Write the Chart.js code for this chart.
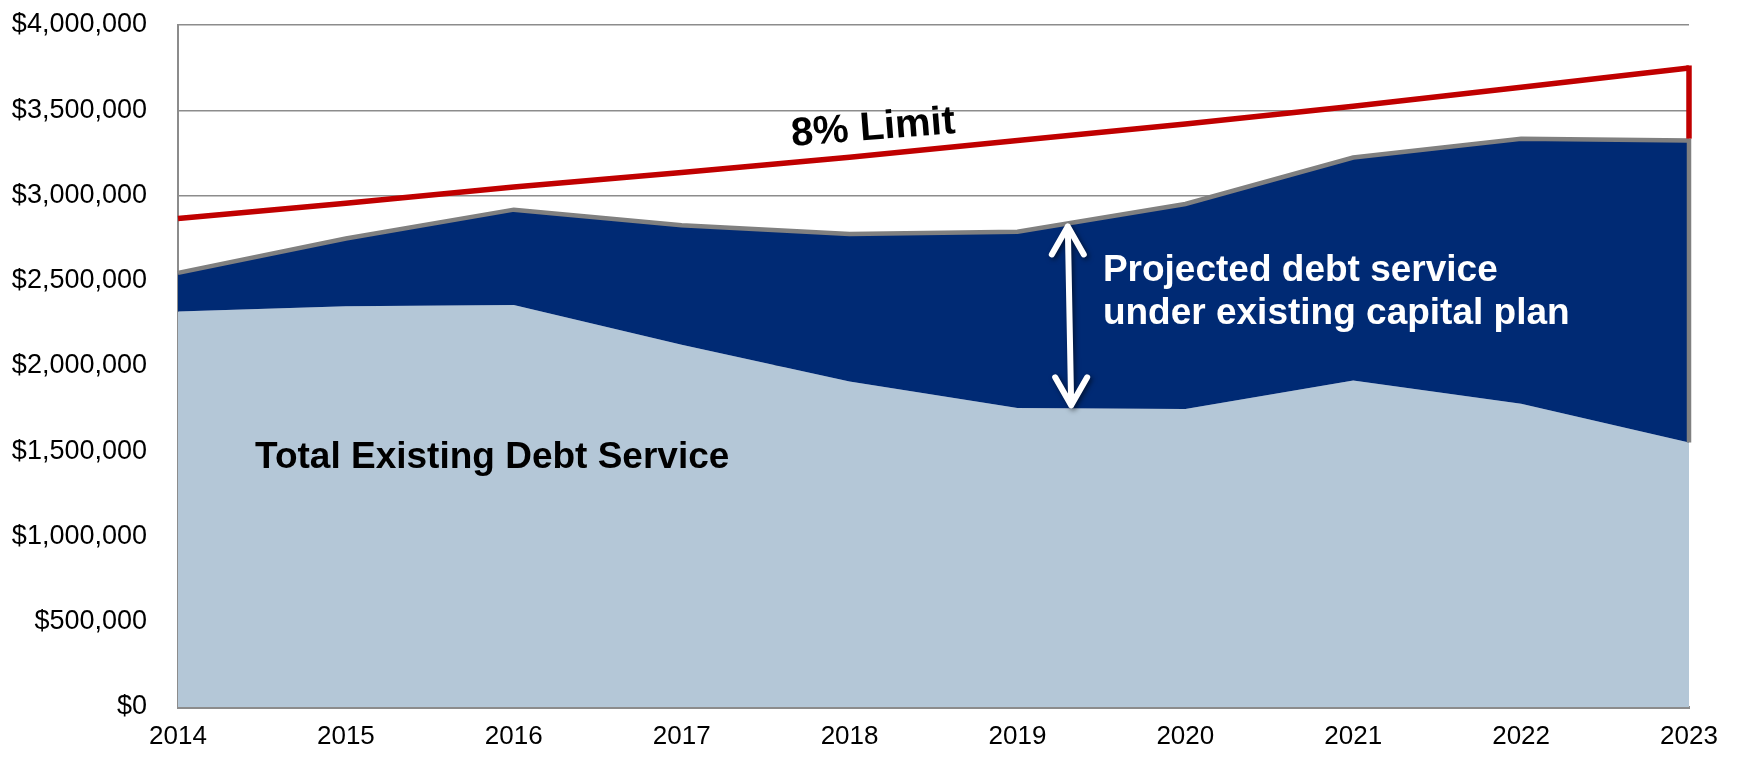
<!DOCTYPE html>
<html>
<head>
<meta charset="utf-8">
<script src="https://cdn.jsdelivr.net/npm/chart.js@4/dist/chart.umd.min.js"></script>
<style>
  body { margin: 0; background: #fff; }
  #chart { display: block; }
</style>
</head>
<body>
<canvas id="chart" width="1739" height="758"></canvas>
<script>
// donnees
const annees = ["2014", "2015", "2016", "2017", "2018", "2019", "2020", "2021", "2022", "2023"];
const limite8 = [2865000, 2955000, 3050000, 3135000, 3225000, 3322000, 3420000, 3524000, 3635000, 3748000];
const totalProjete = [2546000, 2748000, 2917000, 2826000, 2774000, 2787000, 2950000, 3223000, 3333000, 3322000];
const detteExistante = [2319000, 2351000, 2358000, 2124000, 1909000, 1753000, 1748000, 1915000, 1779000, 1551000];
const ticksY = [0, 500000, 1000000, 1500000, 2000000, 2500000, 3000000, 3500000, 4000000];

const police = "'Liberation Sans', Arial, Helvetica, sans-serif";

function formatDollar(v){
    return "$" + Number(v).toLocaleString("en-US");
}

// bords verticaux a droite, fleche et textes
const decor = {
    id: "decor",
    afterDatasetsDraw(chart){
        let ctx = chart.ctx;
        let x = chart.scales.x;
        let y = chart.scales.y;
        let dernier = annees.length - 1;
        let xd = x.getPixelForValue(dernier);

        ctx.save();
        ctx.lineCap = "butt";
        // bord gris de la serie projetee
        ctx.strokeStyle = "#808080";
        ctx.lineWidth = 4.5;
        ctx.beginPath();
        ctx.moveTo(xd, y.getPixelForValue(totalProjete[dernier]) - 2);
        ctx.lineTo(xd, y.getPixelForValue(detteExistante[dernier]));
        ctx.stroke();
        // bord rouge de la limite
        ctx.strokeStyle = "#C00000";
        ctx.lineWidth = 5.5;
        ctx.beginPath();
        ctx.moveTo(xd, y.getPixelForValue(limite8[dernier]) - 2.5);
        ctx.lineTo(xd, y.getPixelForValue(totalProjete[dernier]) - 2);
        ctx.stroke();

        // fleche double blanche
        let xh = x.getPixelForValue(5.30), yh = y.getPixelForValue(2836000);
        let xb = x.getPixelForValue(5.32), yb = y.getPixelForValue(1752000);
        ctx.shadowColor = "rgba(0,0,0,0.55)";
        ctx.shadowBlur = 5;
        ctx.shadowOffsetX = 2;
        ctx.shadowOffsetY = 2;
        ctx.strokeStyle = "#ffffff";
        ctx.lineWidth = 6;
        ctx.lineCap = "round";
        ctx.lineJoin = "round";
        ctx.beginPath();
        ctx.moveTo(xh, yh + 3);
        ctx.lineTo(xb, yb - 3);
        ctx.moveTo(xh - 16, yh + 31);
        ctx.lineTo(xh, yh + 3);
        ctx.lineTo(xh + 16, yh + 31);
        ctx.moveTo(xb - 16, yb - 31);
        ctx.lineTo(xb, yb - 3);
        ctx.lineTo(xb + 16, yb - 31);
        ctx.stroke();
        ctx.restore();

        ctx.save();
        ctx.font = "bold 37px " + police;
        ctx.textBaseline = "alphabetic";
        ctx.textAlign = "left";
        ctx.fillStyle = "#000000";
        ctx.fillText("Total Existing Debt Service", x.getPixelForValue(0.459), y.getPixelForValue(1400000));
        ctx.fillStyle = "#ffffff";
        ctx.fillText("Projected debt service", x.getPixelForValue(5.509), y.getPixelForValue(2500000));
        ctx.fillText("under existing capital plan", x.getPixelForValue(5.509), y.getPixelForValue(2248000));

        ctx.translate(x.getPixelForValue(4.14), y.getPixelForValue(3393000));
        ctx.rotate(-4.5 * Math.PI / 180);
        ctx.font = "bold 40px " + police;
        ctx.textAlign = "center";
        ctx.textBaseline = "middle";
        ctx.fillStyle = "#000000";
        ctx.fillText("8% Limit", 0, 0);
        ctx.restore();
    }
};

let canv = document.getElementById("chart");
let graphe = new Chart(canv, {
    type: "line",
    data: {
        labels: annees,
        datasets: [{
            label: "8% Limit",
            data: limite8,
            borderColor: "#C00000",
            borderWidth: 5.5,
            pointRadius: 0,
            fill: false,
            tension: 0,
        }, {
            label: "Projected debt service under existing capital plan",
            data: totalProjete,
            borderColor: "#808080",
            borderWidth: 4.5,
            backgroundColor: "#002A74",
            pointRadius: 0,
            fill: "+1",
            tension: 0,
        }, {
            label: "Total Existing Debt Service",
            data: detteExistante,
            borderWidth: 0,
            borderColor: "rgba(0,0,0,0)",
            backgroundColor: "#B4C7D7",
            pointRadius: 0,
            fill: "origin",
            tension: 0,
        }]
    },
    options: {
        responsive: false,
        devicePixelRatio: 1,
        animation: false,
        layout: {
            padding: { top: 25, right: 50, bottom: 0, left: 0 }
        },
        plugins: {
            legend: { display: false },
            tooltip: { enabled: false },
        },
        scales: {
            x: {
                offset: false,
                grid: { display: false, drawTicks: false },
                border: { display: true, color: "#8C8C8C", width: 3 },
                ticks: {
                    color: "#000000",
                    font: { family: police, size: 26 },
                    padding: 14,
                    maxRotation: 0,
                    autoSkip: false,
                },
                afterFit: function(s){ s.height = 51; },
            },
            y: {
                min: 0,
                max: 4000000,
                afterBuildTicks: function(s){ s.ticks = ticksY.map(v => ({ value: v })); },
                grid: {
                    color: "#8C8C8C",
                    lineWidth: 1.5,
                    drawTicks: true,
                    tickLength: 31,
                    tickColor: "rgba(0,0,0,0)",
                },
                border: { display: true, color: "#8C8C8C", width: 2 },
                ticks: {
                    color: "#000000",
                    font: { family: police, size: 27 },
                    padding: 0,
                    callback: function(v){ return formatDollar(v); },
                },
                afterFit: function(s){ s.width = 178; },
            }
        }
    },
    plugins: [decor]
});
</script>
</body>
</html>
